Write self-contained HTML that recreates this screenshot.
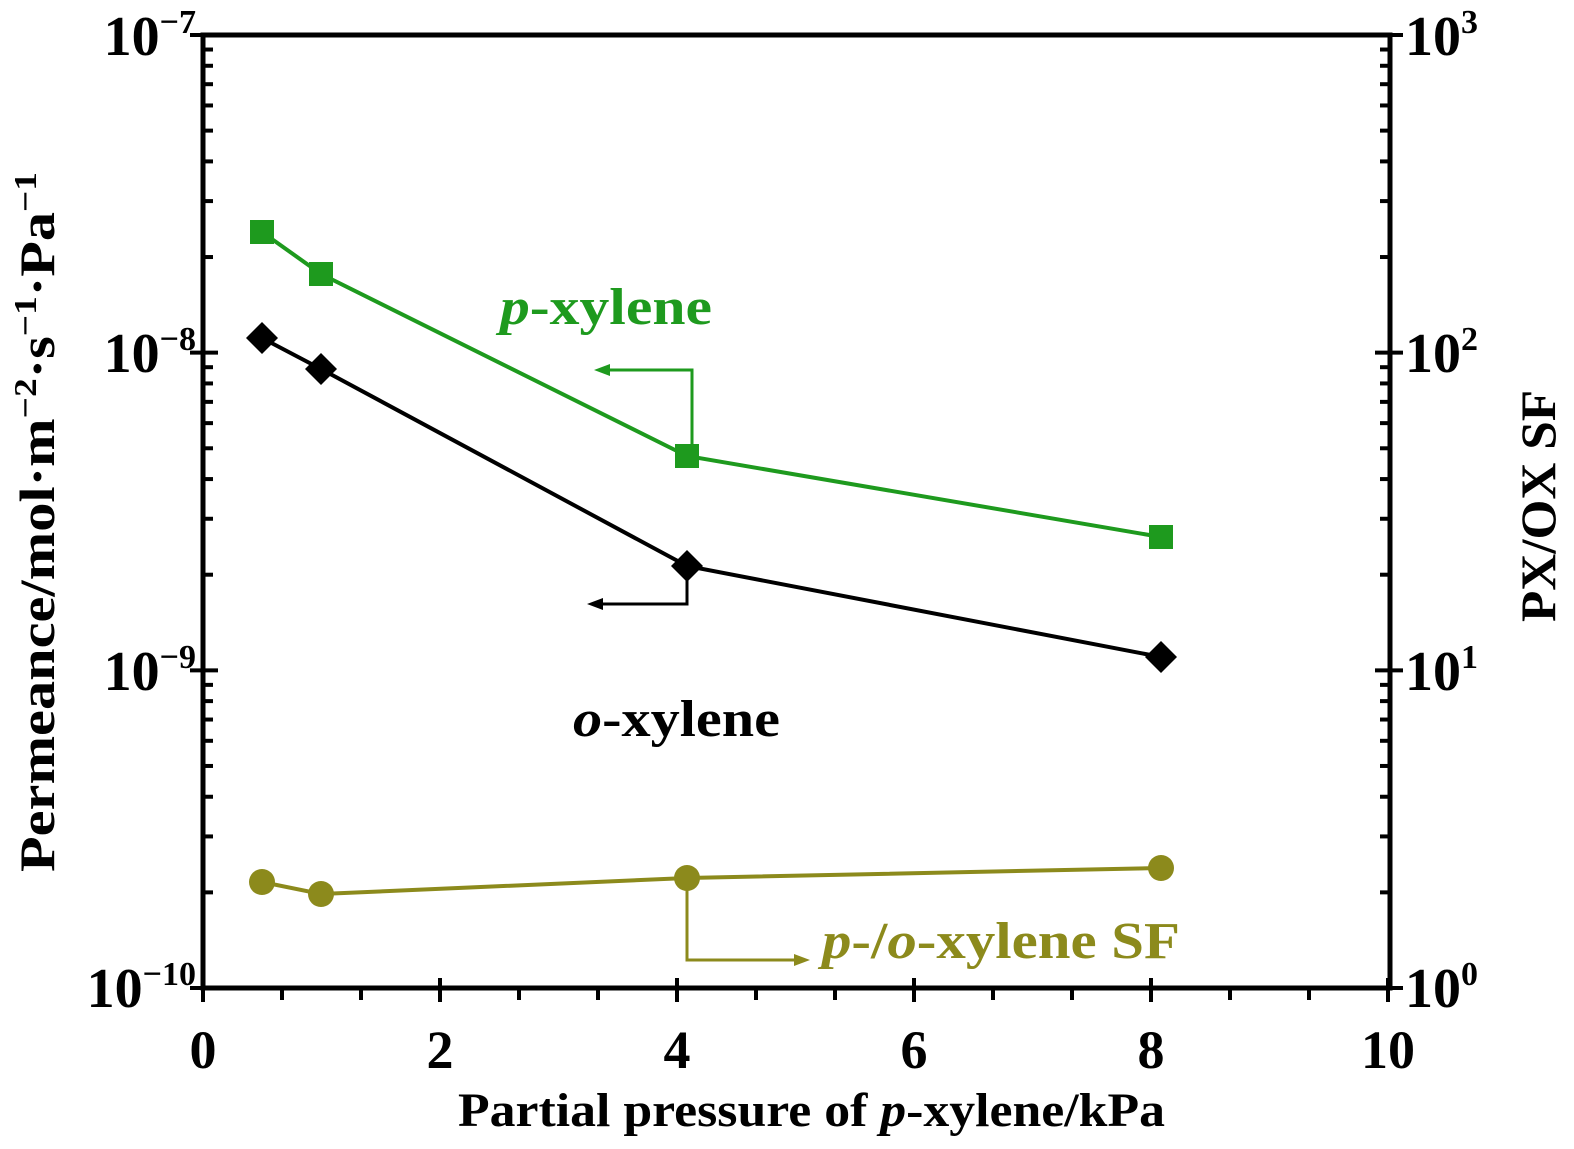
<!DOCTYPE html>
<html><head><style>body{margin:0;background:#fff}svg{display:block}text{font-family:"Liberation Serif",serif;font-weight:bold}</style></head>
<body>
<svg id="s" width="1574" height="1149" xmlns="http://www.w3.org/2000/svg">
<g stroke="#000" stroke-width="5" fill="none">
<rect x="203" y="35" width="1187" height="953"/>
</g>
<g id="ticks" stroke="#000" stroke-width="4"></g>
<g font-size="56" text-anchor="end" fill="#000">
<text x="196" y="55">10<tspan dy="-22" font-size="34">−7</tspan></text>
<text x="196" y="372">10<tspan dy="-22" font-size="34">−8</tspan></text>
<text x="196" y="690">10<tspan dy="-22" font-size="34">−9</tspan></text>
<text x="196" y="1007">10<tspan dy="-22" font-size="34">−10</tspan></text>
</g>
<g font-size="56" text-anchor="start" fill="#000">
<text x="1405" y="55">10<tspan dy="-22" font-size="34">3</tspan></text>
<text x="1405" y="372">10<tspan dy="-22" font-size="34">2</tspan></text>
<text x="1405" y="690">10<tspan dy="-22" font-size="34">1</tspan></text>
<text x="1405" y="1007">10<tspan dy="-22" font-size="34">0</tspan></text>
</g>
<g font-size="54" text-anchor="middle" fill="#000">
<text x="203" y="1068">0</text><text x="440" y="1068">2</text><text x="677" y="1068">4</text>
<text x="914" y="1068">6</text><text x="1151" y="1068">8</text><text x="1388" y="1068">10</text>
</g>
<text x="458" y="1126" font-size="48" textLength="707" lengthAdjust="spacingAndGlyphs">Partial pressure of <tspan font-style="italic">p</tspan>-xylene/kPa</text>
<text transform="translate(54,872) rotate(-90)" font-size="50" textLength="700" lengthAdjust="spacingAndGlyphs">Permeance/mol·m<tspan dy="-18" font-size="32">−2</tspan><tspan dy="18">·s</tspan><tspan dy="-18" font-size="32">−1</tspan><tspan dy="18">·Pa</tspan><tspan dy="-18" font-size="32">−1</tspan></text>
<text transform="translate(1555,622) rotate(-90)" font-size="50" textLength="232" lengthAdjust="spacingAndGlyphs">PX/OX SF</text>
<polyline points="262,232 321,274 687,456 1161,537" stroke="#1e9a1e" stroke-width="4" fill="none"/>
<g fill="#1e9a1e"><rect x="250" y="220" width="24" height="24"/><rect x="309" y="262" width="24" height="24"/><rect x="675" y="444" width="24" height="24"/><rect x="1149" y="525" width="24" height="24"/></g>
<polyline points="692,456 692,370 605,370" stroke="#1e9a1e" stroke-width="3" fill="none"/>
<polygon points="594,370 610,364 610,376" fill="#1e9a1e"/>
<text x="500" y="324" font-size="52" fill="#1e9a1e" textLength="212" lengthAdjust="spacingAndGlyphs"><tspan font-style="italic">p</tspan>-xylene</text>
<polyline points="262,338 321,369 687,566 1161,657" stroke="#000" stroke-width="4" fill="none"/>
<g fill="#000"><polygon points="262,322 278,338 262,354 246,338"/><polygon points="321,353 337,369 321,385 305,369"/><polygon points="687,550 703,566 687,582 671,566"/><polygon points="1161,641 1177,657 1161,673 1145,657"/></g>
<polyline points="687,566 687,604 598,604" stroke="#000" stroke-width="3" fill="none"/>
<polygon points="587,604 603,598 603,610" fill="#000"/>
<text x="573" y="736" font-size="52" fill="#000" textLength="207" lengthAdjust="spacingAndGlyphs"><tspan font-style="italic">o</tspan>-xylene</text>
<polyline points="262,882 321,894 687,878 1161,868" stroke="#8c8a1c" stroke-width="4" fill="none"/>
<g fill="#8c8a1c"><circle cx="262" cy="882" r="13"/><circle cx="321" cy="894" r="13"/><circle cx="687" cy="878" r="13"/><circle cx="1161" cy="868" r="13"/></g>
<polyline points="687,878 687,960 798,960" stroke="#8c8a1c" stroke-width="3" fill="none"/>
<polygon points="810,960 794,954 794,966" fill="#8c8a1c"/>
<text x="822" y="958" font-size="52" fill="#8c8a1c" textLength="358" lengthAdjust="spacingAndGlyphs"><tspan font-style="italic">p</tspan>-/<tspan font-style="italic">o</tspan>-xylene SF</text>
</svg>
<script>
var g=document.getElementById('ticks'),s='';
function L(a,b,c,d){s+='<line x1="'+a+'" y1="'+b+'" x2="'+c+'" y2="'+d+'"/>';}
var D=317.67;
for(var d=0;d<3;d++){var base=988-d*D;for(var k=2;k<=9;k++){var y=base-Math.log10(k)*D;L(203,y,213,y);L(1390,y,1380,y);}}
for(var d=0;d<=3;d++){var y=988-d*D;L(190,y,218,y);L(1375,y,1403,y);}
for(var i=0;i<=15;i++){var x=203+i*1185/15;if(i%3==0){L(x,978,x,1002);}else{L(x,988,x,1000);}}
g.innerHTML=s;
</script>
</body></html>
